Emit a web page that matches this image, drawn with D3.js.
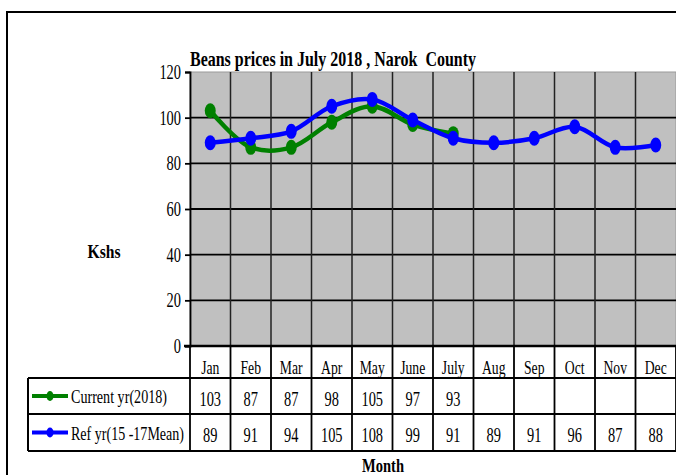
<!DOCTYPE html>
<html><head><meta charset="utf-8">
<script src="https://cdn.jsdelivr.net/npm/d3@7"></script>
<style>body{margin:0;background:#fff}svg{display:block}text{white-space:pre}</style>
</head><body>
<script>
const months = ["Jan","Feb","Mar","Apr","May","June","July","Aug","Sep","Oct","Nov","Dec"];
const currentYr = [103,87,87,98,105,97,93];
const refYr = [89,91,94,105,108,99,91,89,91,96,87,88];
const yTicks = [0,20,40,60,80,100,120];
const seriesNames = ["Current yr(2018)","Ref yr(15 -17Mean)"];
const seriesColors = ["#008000","#0000ff"];

(function(){
const W=676,H=475;
const svg=d3.select("body").append("svg").attr("width",W).attr("height",H);
const font="Liberation Serif";
const squeeze=0.72;
function txt(g,x,y,s,size,anchor,bold,targetW){
  const t=g.append("text").attr("x",x).attr("y",y).attr("font-family",font)
    .attr("font-size",size).attr("text-anchor",anchor||"middle").attr("fill","#000")
    .attr("font-weight",bold?"bold":"normal").attr("xml:space","preserve").text(s);
  const L=t.node().getComputedTextLength();
  t.attr("textLength",targetW||L*squeeze).attr("lengthAdjust","spacingAndGlyphs");
  return t;
}
// outer frame
svg.append("rect").attr("x",7).attr("y",12).attr("width",720).attr("height",520)
  .attr("fill","none").attr("stroke","#000").attr("stroke-width",2);

const pL=190,pR=676,pT=72,pB=346;
const x=d3.scaleBand().domain(months).range([pL,pR]);
const y=d3.scaleLinear().domain([0,120]).range([pB,pT]);

svg.append("rect").attr("x",pL).attr("y",pT).attr("width",pR-pL).attr("height",pB-pT)
  .attr("fill","#c0c0c0").attr("stroke","#999").attr("stroke-width",1);

// horizontal grid
svg.append("g").selectAll("line").data(yTicks.filter(d=>d>0&&d<120)).join("line")
  .attr("x1",pL).attr("x2",pR).attr("y1",d=>y(d)).attr("y2",d=>y(d))
  .attr("stroke","#000").attr("stroke-width",1.8);
// vertical grid (category boundaries)
svg.append("g").selectAll("line").data(months.slice(1)).join("line")
  .attr("x1",d=>x(d)).attr("x2",d=>x(d)).attr("y1",pT).attr("y2",pB)
  .attr("stroke","#222").attr("stroke-width",1.5);

// y axis
const yAxis=svg.append("g").attr("transform",`translate(${pL},0)`)
  .call(d3.axisLeft(y).tickValues(yTicks).tickSize(5).tickFormat(""));
yAxis.select(".domain").attr("stroke","#000").attr("stroke-width",1.8);
yAxis.selectAll(".tick line").attr("stroke","#000").attr("stroke-width",1.8);
yTicks.forEach(v=>txt(svg,181,y(v)+7,String(v),20,"end"));
// zero line
svg.append("line").attr("x1",pL-6).attr("x2",pR).attr("y1",pB).attr("y2",pB)
  .attr("stroke","#000").attr("stroke-width",2.5);

// table
const rowH=[346,378,414,451];
const tbl=svg.append("g");
const tleft=28;
tbl.selectAll("line.v").data(months.concat(["_end"])).join("line")
  .attr("x1",(d,i)=>pL+i*x.bandwidth()).attr("x2",(d,i)=>pL+i*x.bandwidth())
  .attr("y1",rowH[0]).attr("y2",rowH[3]).attr("stroke","#000").attr("stroke-width",1.8);
tbl.append("line").attr("x1",tleft).attr("x2",tleft).attr("y1",rowH[1]).attr("y2",rowH[3]).attr("stroke","#000").attr("stroke-width",2);
[1,2,3].forEach(i=>tbl.append("line").attr("x1",tleft).attr("x2",pR+2).attr("y1",rowH[i]).attr("y2",rowH[i]).attr("stroke","#000").attr("stroke-width",2));
months.forEach(m=>txt(tbl,x(m)+x.bandwidth()/2,rowH[0]+28,m,19));
[currentYr,refYr].forEach((arr,r)=>{
  arr.forEach((v,i)=>txt(tbl,x(months[i])+x.bandwidth()/2,rowH[r+1]+28,String(v),20));
  const ly=(rowH[r+1]+rowH[r+2])/2;
  tbl.append("line").attr("x1",32).attr("x2",68).attr("y1",ly).attr("y2",ly).attr("stroke",seriesColors[r]).attr("stroke-width",4);
  tbl.append("ellipse").attr("cx",50).attr("cy",ly).attr("rx",3.5).attr("ry",5).attr("fill",seriesColors[r]);
  txt(tbl,71,ly+7,seriesNames[r],19.5,"start",false,r===0?96:113);
});

// lines
const line=d3.line().x((d,i)=>x(months[i])+x.bandwidth()/2).y(d=>y(d)).curve(d3.curveCatmullRom.alpha(0.5));
[currentYr,refYr].forEach((arr,r)=>{
  const g=svg.append("g");
  g.append("path").attr("d",line(arr)).attr("fill","none").attr("stroke",seriesColors[r]).attr("stroke-width",4.5);
  g.selectAll("ellipse").data(arr).join("ellipse")
    .attr("cx",(d,i)=>x(months[i])+x.bandwidth()/2).attr("cy",d=>y(d))
    .attr("rx",5.5).attr("ry",7.5).attr("fill",seriesColors[r]);
});

// titles
txt(svg,333,66,"Beans prices in July 2018 , Narok  County",21,"middle",true,286);
txt(svg,104,258,"Kshs",19,"middle",true,33);
txt(svg,383,472,"Month",19,"middle",true,42);
})();
</script>
</body></html>
